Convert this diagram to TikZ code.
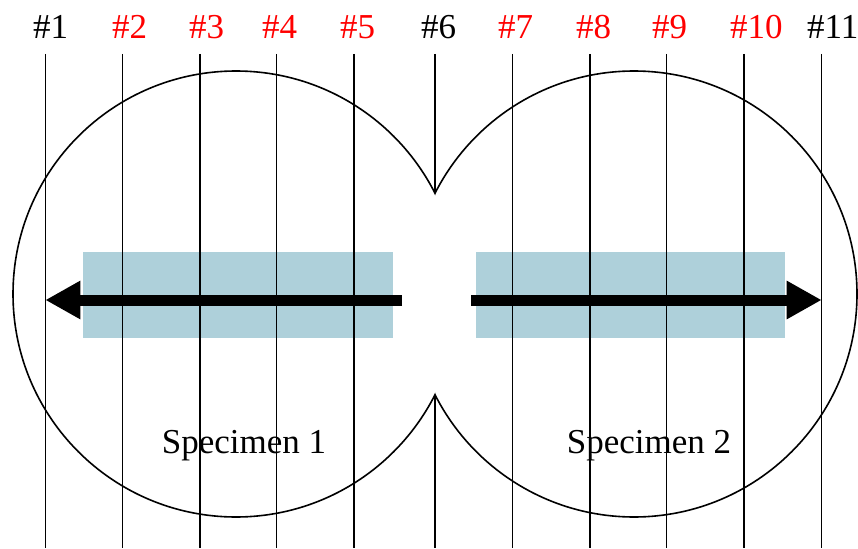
\documentclass[tikz,border=0pt]{standalone}
\usepackage{fontspec}
\setmainfont{Liberation Serif}
\usetikzlibrary{arrows.meta,positioning}
\definecolor{stripblue}{RGB}{174,208,218}

\begin{document}
\begin{tikzpicture}[x=1pt, y=-1pt, every node/.style={font=\fontsize{35}{40}\selectfont, inner sep=0pt, anchor=base west}]
            \useasboundingbox (0,0) rectangle (858,548);
            \tikzset{
                cutline/.style={line width=1.4pt},
                outline/.style={line width=1.6pt},
                bigarrow/.style={line width=11pt, -{Triangle[length=35pt,width=36pt]}}
            }
            
            % Strips
            \fill[stripblue] (83,252) rectangle (393,338);
            \fill[stripblue] (476,252) rectangle (785,338);
            
            % Labels
            \node (L1) at (33,39) {\#1};
            \node[red] (L2) at (112,39) {\#2};
            \node[red] (L3) at (189,39) {\#3};
            \node[red] (L4) at (262,39) {\#4};
            \node[red] (L5) at (340,39) {\#5};
            \node (L6) at (421,39) {\#6};
            \node[red] (L7) at (498,39) {\#7};
            \node[red] (L8) at (576,39) {\#8};
            \node[red] (L9) at (652,39) {\#9};
            \node[red] (L10) at (730,39) {\#10};
            \node (L11) at (807,39) {\#11};
            
            % Cut lines
            \coordinate (t1) at (45.3,54);   \coordinate (b1) at (45.3,548);
            \coordinate (t2) at (122.7,54);  \coordinate (b2) at (122.7,548);
            \coordinate (t3) at (200,54);    \coordinate (b3) at (200,548);
            \coordinate (t4) at (276.7,54);  \coordinate (b4) at (276.7,548);
            \coordinate (t5) at (354,54);    \coordinate (b5) at (354,548);
            \coordinate (t6) at (435,54);    \coordinate (b6) at (435,548);
            \coordinate (t7) at (512.7,54);  \coordinate (b7) at (512.7,548);
            \coordinate (t8) at (590,54);    \coordinate (b8) at (590,548);
            \coordinate (t9) at (666.7,54);  \coordinate (b9) at (666.7,548);
            \coordinate (t10) at (744,54);   \coordinate (b10) at (744,548);
            \coordinate (t11) at (821.7,54); \coordinate (b11) at (821.7,548);
            \coordinate (u6) at (435,193.4);
            \coordinate (l6) at (435,394.6);
            
            \draw[cutline] (t1) -- (b1);
            \draw[cutline] (t2) -- (b2);
            \draw[cutline] (t3) -- (b3);
            \draw[cutline] (t4) -- (b4);
            \draw[cutline] (t5) -- (b5);
            \draw[cutline] (t6) -- (u6);
            \draw[cutline] (l6) -- (b6);
            \draw[cutline] (t7) -- (b7);
            \draw[cutline] (t8) -- (b8);
            \draw[cutline] (t9) -- (b9);
            \draw[cutline] (t10) -- (b10);
            \draw[cutline] (t11) -- (b11);
            
            % Specimen outlines
            \coordinate (c1) at (236,294);
            \coordinate (c2) at (634,294);
            \begin{scope}
                \clip (0,0) rectangle (435,548);
                \draw[outline] (c1) circle[radius=223pt];
            \end{scope}
            \begin{scope}
                \clip (435,0) rectangle (858,548);
                \draw[outline] (c2) circle[radius=223pt];
            \end{scope}
            
            % Arrows
            \coordinate (a1) at (402,300);
            \coordinate (e1) at (45.3,300);
            \coordinate (a2) at (471,300);
            \coordinate (e2) at (821.7,300);
            \draw[bigarrow] (a1) -- (e1);
            \draw[bigarrow] (a2) -- (e2);
            
            % Names
            \node[anchor=base] (S1) at (244,453) {Specimen 1};
            \node[anchor=base] (S2) at (649,453) {Specimen 2};
        \end{tikzpicture}
\end{document}
